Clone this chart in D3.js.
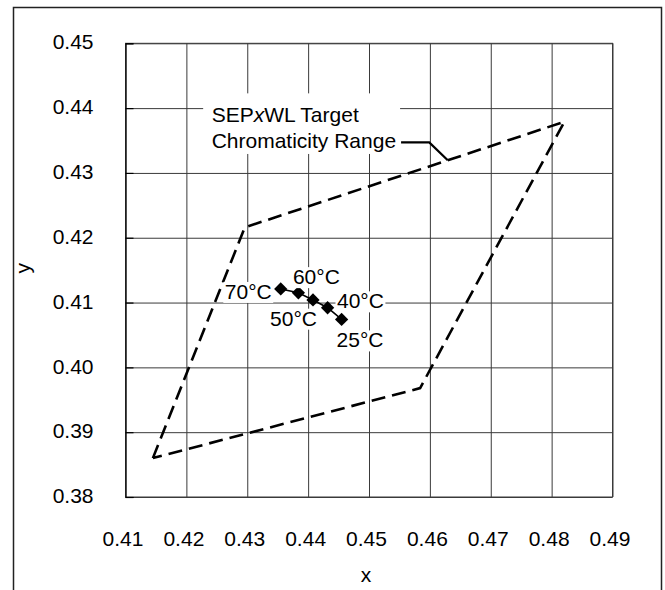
<!DOCTYPE html>
<html><head><meta charset="utf-8">
<script src="https://cdn.jsdelivr.net/npm/d3@7"></script>
<style>
body{margin:0;background:#fff}
text{font-family:"Liberation Sans",Arial,sans-serif;font-size:21px;fill:#000}
</style>
</head><body>
<svg id="c" width="665" height="590"></svg>
<script>
// ---- data ----
const xTicks = [0.41,0.42,0.43,0.44,0.45,0.46,0.47,0.48,0.49];
const yTicks = [0.38,0.39,0.40,0.41,0.42,0.43,0.44,0.45];
const xTickLabels = ["0.41","0.42","0.43","0.44","0.45","0.46","0.47","0.48","0.49"];
const yTickLabels = ["0.38","0.39","0.40","0.41","0.42","0.43","0.44","0.45"];
const tempLabels = ["70°C","60°C","50°C","40°C","25°C"];
const tempX = [0.4355,0.4384,0.4408,0.4432,0.4455];
const tempY = [0.4121,0.4115,0.4104,0.4092,0.4074];
const rangeX = [0.4145,0.4296,0.4821,0.4584,0.4145];
const rangeY = [0.3860,0.4216,0.4379,0.3968,0.3860];
const xTitle = "x";
const yTitle = "y";
const noteLine1 = ["SEP","x","WL Target"];
const noteLine2 = "Chromaticity Range";

// ---- layout ----
const W = 665, H = 590;
const M = {l:125.5, r:612.5, t:43.3, b:497};
const labelPlacement = [
  {dx:-9, dy:10, anchor:"end"},
  {dx:-5.5, dy:-8.7, anchor:"start"},
  {dx:4, dy:25.7, anchor:"end"},
  {dx:9.4, dy:0.6, anchor:"start"},
  {dx:-5, dy:28, anchor:"start"}
];

const svg = d3.select("#c");
const x = d3.scaleLinear().domain([xTicks[0], xTicks[xTicks.length-1]]).range([M.l, M.r]);
const y = d3.scaleLinear().domain([yTicks[0], yTicks[yTicks.length-1]]).range([M.b, M.t]);

// outer frame (bottom runs off the picture)
svg.append("path").attr("d", `M13.5,${H+5}V7.5H661.5V${H+5}`)
  .attr("fill","none").attr("stroke","#222").attr("stroke-width",1.5);

// gridlines
const gx = svg.append("g").attr("transform",`translate(0,${M.b})`)
  .call(d3.axisBottom(x).tickValues(xTicks).tickSize(-(M.b-M.t)).tickFormat(""));
gx.select(".domain").remove();
gx.selectAll("line").attr("stroke","#3a3a3a").attr("stroke-width",1);
const gy = svg.append("g").attr("transform",`translate(${M.l},0)`)
  .call(d3.axisLeft(y).tickValues(yTicks).tickSize(-(M.r-M.l)).tickFormat(""));
gy.select(".domain").remove();
gy.selectAll("line").attr("stroke","#3a3a3a").attr("stroke-width",1);

// plot frame
svg.append("rect").attr("x",M.l).attr("y",M.t).attr("width",M.r-M.l).attr("height",M.b-M.t)
  .attr("fill","none").attr("stroke","#3a3a3a").attr("stroke-width",1);

// small inside ticks on y axis
const tk = svg.append("g").attr("transform",`translate(${M.l},0)`)
  .call(d3.axisLeft(y).tickValues(yTicks).tickSize(-8).tickFormat(""));
tk.select(".domain").attr("stroke","#000");
tk.selectAll("line").attr("stroke","#000").attr("stroke-width",1.2);

// tick labels
const ax = svg.append("g").attr("transform",`translate(0,${M.b})`)
  .call(d3.axisBottom(x).tickValues(xTicks).tickSize(0).tickPadding(34)
    .tickFormat((d,i)=>xTickLabels[i]));
ax.select(".domain").remove();
ax.selectAll("text").attr("dx",-3).style("font-size","21px").attr("fill","#000")
  .style("font-family",'"Liberation Sans",Arial,sans-serif');
const ay = svg.append("g").attr("transform",`translate(${M.l},0)`)
  .call(d3.axisLeft(y).tickValues(yTicks).tickSize(0).tickPadding(32)
    .tickFormat((d,i)=>yTickLabels[i]));
ay.select(".domain").remove();
ay.selectAll("text").attr("dy","0.27em").style("font-size","21px").attr("fill","#000")
  .style("font-family",'"Liberation Sans",Arial,sans-serif');

// axis titles
svg.append("text").attr("x",(M.l+M.r)/2-3).attr("y",581.5).attr("text-anchor","middle").text(xTitle);
svg.append("text").attr("transform",`translate(30,${(M.t+M.b)/2-2}) rotate(-90)`)
  .attr("text-anchor","middle").text(yTitle);

// target range polygon (dashed)
const rangePts = rangeX.map((v,i)=>[v, rangeY[i]]);
svg.append("path").datum(rangePts)
  .attr("d", d3.line().x(d=>x(d[0])).y(d=>y(d[1])))
  .attr("fill","none").attr("stroke","#000").attr("stroke-width",2.6)
  .attr("stroke-dasharray","14,7").attr("stroke-linejoin","miter");

// annotation: leader end on the top edge of the range
const tEdge = 0.635;
const endX = rangeX[1] + (rangeX[2]-rangeX[1])*tEdge;
const endY = rangeY[1] + (rangeY[2]-rangeY[1])*tEdge;
const elbowX = 0.4599, elbowY = 0.4347;
const note = svg.append("g");
const noteBg = note.append("rect").attr("fill","#fff");
const t1 = note.append("text").attr("x", x(elbowX)-217.6).attr("y", y(elbowY)-20.6);
t1.append("tspan").text(noteLine1[0]);
t1.append("tspan").style("font-style","italic").text(noteLine1[1]);
t1.append("tspan").text(noteLine1[2]);
const t2 = note.append("text").attr("x", x(elbowX)-217.6).attr("y", y(elbowY)+6).text(noteLine2);
const b1 = t1.node().getBBox(), b2 = t2.node().getBBox();
const bx0 = Math.min(b1.x,b2.x)-8.5, by0 = b1.y-9.5;
const bx1 = Math.max(b1.x+b1.width,b2.x+b2.width)+4, by1 = b2.y+b2.height+1.5;
noteBg.attr("x",bx0).attr("y",by0).attr("width",bx1-bx0).attr("height",by1-by0);
note.append("path")
  .attr("d", d3.line()([[b2.x+b2.width+5, y(elbowY)],[x(elbowX), y(elbowY)],[x(endX), y(endY)]]))
  .attr("fill","none").attr("stroke","#000").attr("stroke-width",2.2);

// temperature series
const tempPts = tempX.map((v,i)=>[v, tempY[i]]);
svg.append("path").datum(tempPts)
  .attr("d", d3.line().x(d=>x(d[0])).y(d=>y(d[1])))
  .attr("fill","none").attr("stroke","#000").attr("stroke-width",1.6);
svg.selectAll(".pt").data(tempPts).enter().append("path").attr("class","pt")
  .attr("d", d3.symbol().type(d3.symbolSquare).size(88))
  .attr("transform", d=>`translate(${x(d[0])},${y(d[1])}) rotate(45)`)
  .attr("fill","#000");

// temperature labels with white backgrounds
tempPts.forEach((d,i)=>{
  const p = labelPlacement[i];
  const g = svg.append("g");
  const bg = g.append("rect").attr("fill","#fff");
  const t = g.append("text").attr("x", x(d[0])+p.dx).attr("y", y(d[1])+p.dy)
    .attr("text-anchor", p.anchor).text(tempLabels[i]);
  const b = t.node().getBBox();
  bg.attr("x",b.x-1.5).attr("y",b.y+2).attr("width",b.width+3).attr("height",b.height-2);
});
</script>
</body></html>
